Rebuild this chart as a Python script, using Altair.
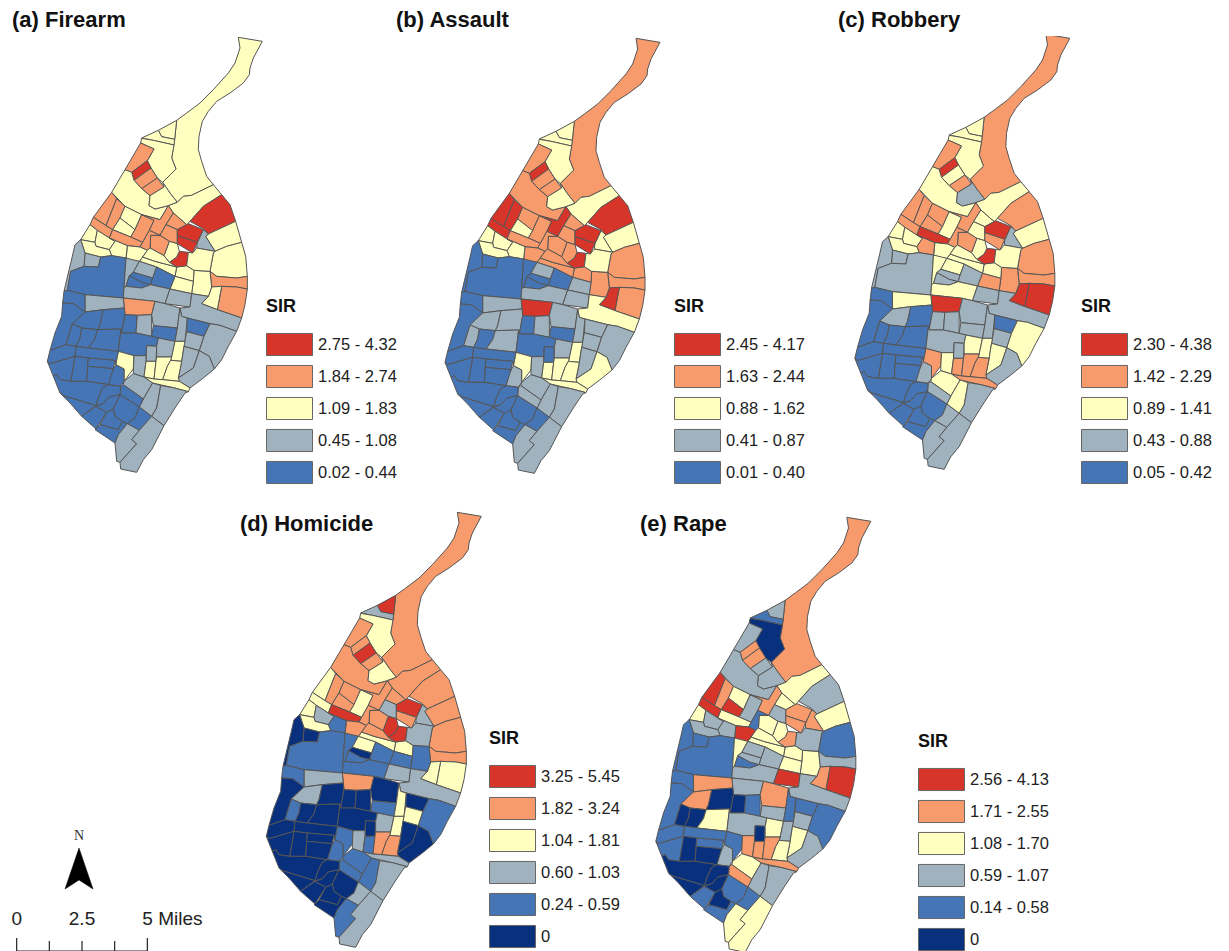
import altair as alt

FONT = "Liberation Sans"
COLORS = {"N": "#08307c", "B": "#4575b5", "G": "#a0b2bd", "Y": "#ffffbf", "O": "#f89b6c", "R": "#d8352a"}

titles = ["(a) Firearm", "(b) Assault", "(c) Robbery", "(d) Homicide", "(e) Rape"]
firearm_labels = ["2.75 - 4.32", "1.84 - 2.74", "1.09 - 1.83", "0.45 - 1.08", "0.02 - 0.44"]
assault_labels = ["2.45 - 4.17", "1.63 - 2.44", "0.88 - 1.62", "0.41 - 0.87", "0.01 - 0.40"]
robbery_labels = ["2.30 - 4.38", "1.42 - 2.29", "0.89 - 1.41", "0.43 - 0.88", "0.05 - 0.42"]
homicide_labels = ["3.25 - 5.45", "1.82 - 3.24", "1.04 - 1.81", "0.60 - 1.03", "0.24 - 0.59", "0"]
rape_labels = ["2.56 - 4.13", "1.71 - 2.55", "1.08 - 1.70", "0.59 - 1.07", "0.14 - 0.58", "0"]

# tract outlines, map units
tract_shapes = {
 "T1": [(595,13),(667,25),(640,75),(630,105),(628,125),(610,150),(570,180),(530,205),(505,235),(487,265),(477,310),(475,350),(485,385),(500,430),(520,455),(455,487),(430,490),(412,508),(390,480),(368,448),(408,408),(395,375),(404,319),(410,262),(440,240),(480,210),(520,170),(565,120),(585,90),(600,45)],
 "T2": [(355,292),(410,262),(404,319),(365,311)],
 "T3": [(305,315),(355,292),(365,311),(404,319),(402,336),(340,322)],
 "T4": [(305,316),(340,322),(402,336),(395,375),(408,408),(368,448),(352,435),(333,405),(322,383),(342,348),(302,330)],
 "T5": [(302,330),(342,348),(322,383),(275,418),(255,410)],
 "T6": [(275,418),(322,383),(333,405),(282,442)],
 "T7": [(282,442),(333,405),(352,435),(305,467)],
 "T8": [(305,467),(352,435),(372,462),(330,488)],
 "T9": [(255,410),(275,418),(282,442),(305,467),(330,488),(327,518),(345,528),(385,518),(360,560),(305,545),(255,520),(215,478)],
 "T10": [(330,488),(372,462),(368,448),(390,480),(412,508),(385,518),(345,528),(327,518)],
 "T12": [(412,508),(430,490),(455,487),(520,455),(545,485),(490,520),(450,565),(440,575),(400,540),(385,518)],
 "T13": [(545,485),(570,515),(587,565),(505,603),(490,587),(450,565),(490,520)],
 "T14": [(505,603),(587,565),(605,628),(560,640),(525,655),(497,610)],
 "T15": [(490,590),(505,603),(497,610),(525,655),(470,645),(472,628)],
 "T16": [(525,655),(560,640),(605,628),(617,670),(622,730),(590,735),(530,730),(510,715),(520,660)],
 "T17": [(530,730),(590,735),(622,730),(622,768),(590,762),(545,760),(515,762),(510,715)],
 "T18": [(545,760),(590,762),(622,768),(615,815),(605,855),(532,830)],
 "T19": [(515,762),(545,760),(532,830),(485,812),(505,790)],
 "T20": [(462,712),(510,715),(515,762),(505,790),(455,782),(460,745)],
 "T21a": [(410,702),(440,698),(462,712),(460,745),(405,730)],
 "T21b": [(405,730),(460,745),(455,782),(390,768)],
 "T22a": [(215,478),(230,497),(198,578),(160,553)],
 "T22b": [(230,497),(255,520),(240,555),(218,590),(198,578)],
 "T23": [(160,553),(198,578),(218,590),(208,615),(172,592),(150,575)],
 "T24": [(255,520),(305,545),(285,590),(240,555)],
 "T25": [(240,555),(285,590),(272,612),(218,590)],
 "T26": [(305,545),(342,562),(328,592),(308,628),(272,612),(285,590)],
 "T27": [(218,590),(272,612),(308,628),(300,642),(262,638),(208,615)],
 "T28": [(305,545),(360,560),(385,518),(400,540),(378,575),(360,607),(328,592),(342,562)],
 "T29": [(400,540),(440,575),(412,590),(378,575)],
 "T30": [(378,575),(412,590),(412,632),(388,625),(360,607)],
 "T31": [(412,590),(445,572),(490,590),(472,628),(412,608)],
 "T32": [(412,608),(472,628),(458,660),(412,632)],
 "T33": [(418,655),(445,658),(440,698),(410,702),(388,688),(410,672)],
 "T34": [(388,625),(412,632),(418,655),(410,672),(388,688),(372,668)],
 "T35": [(332,607),(360,607),(388,625),(372,668),(330,645)],
 "T36": [(328,592),(360,607),(332,607),(330,645),(322,652),(300,642),(308,628)],
 "T40": [(308,672),(345,685),(410,702),(405,730),(350,702),(298,685)],
 "T41": [(262,638),(300,642),(322,652),(308,672),(298,685),(258,682)],
 "T42": [(322,652),(330,645),(372,668),(388,688),(410,702),(345,685),(308,672)],
 "T43": [(445,658),(458,660),(470,645),(525,655),(520,660),(510,715),(462,712),(440,698)],
 "T44": [(150,575),(172,592),(165,628),(122,620)],
 "T45a": [(172,592),(208,615),(225,625),(208,650),(168,640),(165,628)],
 "T45b": [(208,615),(262,638),(258,675),(215,668),(208,650),(225,625)],
 "T46": [(122,620),(165,628),(168,640),(208,650),(215,668),(182,672),(135,660)],
 "T47": [(135,660),(182,672),(175,702),(132,700)],
 "T48": [(105,635),(122,620),(135,660),(132,700),(92,715),(82,772),(72,775),(85,720),(97,670)],
 "T49": [(92,715),(132,700),(175,702),(182,672),(215,668),(258,675),(252,765),(250,795),(135,785),(82,772)],
 "T50": [(258,675),(298,685),(280,718),(268,728),(258,760),(252,765)],
 "T51": [(298,685),(350,702),(338,735),(280,718)],
 "T52": [(280,718),(338,735),(332,755),(305,748),(268,728)],
 "T53": [(268,728),(305,748),(332,755),(305,765),(258,760)],
 "T54": [(350,702),(405,730),(390,768),(332,755),(338,735)],
 "T55": [(258,760),(305,765),(332,755),(390,768),(375,812),(345,805),(250,795),(252,765)],
 "T56": [(390,768),(455,782),(450,822),(375,812)],
 "T57": [(455,782),(505,790),(485,812),(532,830),(605,855),(590,895),(540,877),(510,872),(442,855),(425,850),(420,825),(450,822)],
 "T58": [(250,795),(345,805),(335,845),(292,847),(255,845),(253,825)],
 "T59": [(135,785),(250,795),(253,825),(190,830),(135,837)],
 "T60": [(72,775),(82,772),(135,785),(135,837),(100,812),(68,810)],
 "T61": [(68,810),(100,812),(135,837),(97,873),(78,935),(30,952),(45,900),(65,850)],
 "T62": [(135,837),(190,830),(180,875),(173,890),(125,885),(97,873)],
 "T63": [(190,830),(253,825),(255,845),(245,900),(243,888),(173,890),(180,875)],
 "T64": [(97,873),(125,885),(120,915),(108,940),(78,935)],
 "T65": [(125,885),(173,890),(165,917),(145,945),(108,940),(120,915)],
 "T66": [(173,890),(243,888),(235,955),(145,945),(165,917)],
 "T67": [(255,845),(292,847),(288,900),(245,900)],
 "T68": [(292,847),(335,845),(335,910),(288,900)],
 "T69": [(345,805),(375,812),(420,825),(412,885),(340,878),(335,845)],
 "T70": [(340,878),(412,885),(405,925),(355,915),(335,910)],
 "T71": [(420,825),(425,850),(442,855),(435,925),(405,925),(412,885)],
 "T72": [(442,855),(510,872),(492,910),(440,896)],
 "T73": [(440,896),(492,910),(478,953),(432,940)],
 "T74": [(510,872),(540,877),(590,895),(565,940),(545,980),(523,1008),(508,970),(478,953),(492,910)],
 "T75": [(245,900),(288,900),(335,910),(355,915),(350,940),(320,938),(318,968),(282,968),(235,955),(243,888)],
 "T76": [(320,938),(350,940),(348,985),(318,985)],
 "T77": [(355,915),(405,925),(395,972),(350,972),(350,940)],
 "T78": [(405,925),(435,925),(432,940),(425,985),(392,982),(395,972)],
 "T79": [(432,940),(478,953),(460,1005),(415,1035),(425,985)],
 "T80": [(478,953),(508,970),(523,1008),(490,1035),(450,1065),(418,1045),(415,1035),(460,1005)],
 "T81": [(235,955),(282,968),(280,1008),(252,1045),(252,1008),(227,995)],
 "T82": [(282,968),(318,968),(318,985),(312,1032),(280,1022),(280,1008)],
 "T83": [(318,985),(348,985),(342,1038),(312,1032)],
 "T84": [(350,972),(395,972),(392,982),(382,1000),(368,1040),(342,1038),(348,985)],
 "T85": [(392,982),(425,985),(415,1035),(418,1045),(368,1040),(382,1000)],
 "T86": [(312,1032),(342,1038),(368,1040),(418,1045),(450,1065),(445,1076),(400,1064),(338,1050)],
 "T87": [(280,1022),(312,1032),(338,1050),(310,1098),(250,1055),(252,1045)],
 "T88": [(338,1050),(362,1058),(350,1125),(335,1150),(298,1122),(310,1098)],
 "T89": [(362,1058),(400,1064),(445,1076),(435,1080),(405,1125),(372,1178),(335,1150),(350,1125)],
 "T90": [(250,1055),(310,1098),(298,1122),(240,1085),(242,1060)],
 "T91": [(227,995),(252,1008),(252,1045),(242,1060),(205,1055),(212,1025)],
 "T92": [(30,952),(78,935),(108,940),(105,970),(30,992),(22,985)],
 "T93": [(108,940),(145,945),(235,955),(227,995),(225,982),(145,975),(105,970)],
 "T94": [(105,970),(145,975),(140,1045),(92,1045)],
 "T95": [(145,975),(225,982),(220,1007),(143,1000)],
 "T96": [(143,1000),(220,1007),(205,1055),(140,1045)],
 "T97": [(22,985),(30,992),(105,970),(92,1045),(60,1040),(50,1025),(40,1030)],
 "T98": [(40,1030),(50,1025),(60,1040),(92,1045),(140,1045),(205,1055),(188,1065),(175,1095),(168,1118),(70,1088),(60,1080)],
 "T99": [(60,1080),(70,1088),(168,1118),(125,1150),(90,1110)],
 "T100": [(205,1055),(242,1060),(240,1085),(208,1092),(190,1112),(168,1118),(175,1095),(188,1065)],
 "T101": [(125,1150),(168,1120),(200,1138),(168,1188)],
 "T102": [(168,1120),(190,1112),(208,1092),(240,1085),(220,1128),(200,1138)],
 "T103": [(240,1085),(298,1122),(285,1155),(262,1172),(247,1165),(225,1150),(220,1128)],
 "T104": [(200,1138),(220,1128),(225,1150),(247,1165),(235,1190),(180,1175)],
 "T105": [(168,1188),(180,1175),(235,1190),(247,1165),(262,1172),(235,1205),(225,1230),(165,1190)],
 "T106": [(298,1122),(335,1150),(298,1192),(262,1172),(285,1155)],
 "T107": [(225,1230),(235,1205),(262,1172),(298,1192),(275,1220),(290,1232),(240,1288),(230,1285)],
 "T108": [(335,1150),(372,1178),(335,1250),(310,1280),(290,1318),(242,1308),(240,1288),(290,1232),(275,1220),(298,1192)],
}

# class code per tract, in panel order firearm / assault / robbery / homicide / rape
# R O Y G B N = top class down to the "0" class
tract_classes = {
 "T1":"YOOOO","T2":"YYYRG","T3":"YYYGB","T4":"YYYYN","T5":"OOOOG","T6":"RRROO","T7":"OOYRO","T8":"OOOOG","T9":"YOYOG","T10":"YYGYG",
 "T12":"YYYOY","T13":"RROOG","T14":"YYYOY","T15":"GYGGO","T16":"YOOOB","T17":"OOOOG","T18":"OORYR","T19":"YRRYO","T20":"YOOBY",
 "T21a":"YOYYY","T21b":"YGOBY","T22a":"OROYR","T22b":"OROOO","T23":"OROYR","T24":"YOOOY","T25":"YYOOR","T26":"OOYYG","T27":"OORRY",
 "T28":"OROOO","T29":"OOYOY","T30":"OOYGG","T31":"RRRRO","T32":"RROOO","T33":"RRRRO","T34":"YOYRY","T35":"OOOOY","T36":"OOOOB",
 "T40":"YOYYY","T41":"YOYOR","T42":"YOYOY","T43":"YYYGG","T44":"YYYYY","T45a":"YYYGG","T45b":"YYOBG","T46":"YYYYG","T47":"GBGNB",
 "T48":"GBGNB","T49":"BBGBB","T50":"GBYBY","T51":"GGYYG","T52":"BBGNG","T53":"BBGBB","T54":"BBGBG","T55":"GGYBG","T56":"GGGGR",
 "T57":"GYGGG","T58":"ORROG","T59":"GGYGO","T60":"BBBBB","T61":"BBBNB","T62":"BGGGO","T63":"BGBNN","T64":"BGBBN",
 "T65":"BBBNN","T66":"BGBNY","T67":"BBGNN","T68":"GGGNB","T69":"GGGNO","T70":"BBGBG","T71":"GGGYB","T72":"BGBNB","T73":"GGGYG",
 "T74":"GGYBB","T75":"BBGNG","T76":"GBGNN","T77":"GGYGY","T78":"YYYYG","T79":"GGYNY","T80":"GYGNG","T81":"YYOBB","T82":"GGYGO",
 "T83":"YYOBO","T84":"YYOOO","T85":"YYOOY","T86":"YYOGO","T87":"GGYBY","T88":"GGYBG","T89":"GGGGG","T90":"BGGBO","T91":"BGGBG",
 "T92":"BBBNB","T93":"BBBNB","T94":"BBBNN","T95":"BBBNB","T96":"BBBNN","T97":"BBBNB","T98":"BBBNN","T99":"BBBNN","T100":"BBBNN",
 "T101":"BBBNB","T102":"BBBNN","T103":"BBBNB","T104":"BBBNN","T105":"BBBNB","T106":"BBGGB","T107":"GGGBY","T108":"GGGGY",
}

north_arrow = [(-540, 1020), (-582, 1143), (-540, 1116), (-498, 1143)]
scale_miles = [0, 1.25, 2.5, 3.75, 5]
scale_labels = ["0", "2.5"]
scale_end_label = "5 Miles"


def ring(points, off):
    pts = [[p[0] + off[0], p[1] + off[1]] for p in points]
    return [pts + [pts[0]]]


def tract_features(panel, labels, off):
    order = "ROYGBN"
    out = []
    for name, poly in tract_shapes.items():
        code = tract_classes[name][panel]
        out.append({"type": "Feature", "geometry": {"type": "Polygon", "coordinates": ring(poly, off)},
                    "properties": {"tract": name, "label": labels[order.index(code)]}})
    return out


PANELS = [
    # labels, codes, width, height, map offset (map units), legendX, legendY, title dx, title dy
    (firearm_labels, "ROYGB", 388, 475, (96, -9), 258, 262, 4, 0),
    (assault_labels, "ROYGB", 442, 475, (125, -6), 278, 262, 0, 0),
    (robbery_labels, "ROYGB", 383, 475, (28.5, -18), 243, 262, 0, 0),
    (homicide_labels, "ROYGBN", 632, 443, (753, -9), 481, 219, 232, 29),
    (rape_labels, "ROYGBN", 400, 443, (25.5, 6), 278, 222, 0, 29),
]
PROJ = dict(type="identity", scale=1 / 3, translate=[0, 0])


def panel(i):
    labels, codes, w, h, off, lx, ly, dx, dy = PANELS[i]
    ch = alt.Chart(alt.Data(values=tract_features(i, labels, off))).mark_geoshape(
        stroke="#555555", strokeWidth=1
    ).encode(
        fill=alt.Fill(
            "properties.label:N",
            sort=None,
            scale=alt.Scale(domain=labels, range=[COLORS[c] for c in codes]),
            legend=alt.Legend(
                title="SIR", orient="none", legendX=lx, legendY=ly,
                symbolType="M-1,-0.69H1.875V0.69H-1Z", symbolSize=1024,
                symbolStrokeColor="#666666", symbolStrokeWidth=1, rowPadding=2,
                labelOffset=19, labelFont=FONT, labelFontSize=16.5, labelColor="#222222", labelLimit=200,
                titleFont=FONT, titleFontSize=18, titleFontWeight="bold", titleColor="#111111", titlePadding=12,
            ),
        )
    ).project(**PROJ)
    if i == 3:
        unit = 78.4
        x0 = -727 + off[0]
        ybar = 1329 + off[1]
        lines = [{"type": "Feature", "geometry": {"type": "LineString", "coordinates": [[x0, ybar], [x0 + 5 * unit, ybar]]}, "properties": {}}]
        for m in scale_miles:
            top = ybar - (39 if m in (0, 5) else 30)
            lines.append({"type": "Feature", "geometry": {"type": "LineString", "coordinates": [[x0 + m * unit, ybar], [x0 + m * unit, top]]}, "properties": {}})
        bar = alt.Chart(alt.Data(values=lines)).mark_geoshape(filled=False, stroke="#222222", strokeWidth=1.2).project(**PROJ)
        arrow = alt.Chart(alt.Data(values=[{"type": "Feature", "geometry": {"type": "Polygon", "coordinates": ring(north_arrow, off)}, "properties": {}}])).mark_geoshape(fill="black", stroke="black", strokeWidth=0.5).project(**PROJ)
        n = alt.Chart(alt.Data(values=[{"lon": -540 + off[0], "lat": 984 + off[1], "t": "N"}])).mark_text(font="Liberation Serif", fontSize=14, color="#333333").encode(longitude="lon:Q", latitude="lat:Q", text="t:N").project(**PROJ)
        lab = alt.Chart(alt.Data(values=[{"lon": x0 + m * unit, "lat": 1233 + off[1], "t": t} for m, t in zip([0, 2.5], scale_labels)])).mark_text(font=FONT, fontSize=19, color="#222222").encode(longitude="lon:Q", latitude="lat:Q", text="t:N").project(**PROJ)
        lab2 = alt.Chart(alt.Data(values=[{"lon": x0 + 5 * unit - 15, "lat": 1233 + off[1], "t": scale_end_label}])).mark_text(font=FONT, fontSize=19, color="#222222", align="left").encode(longitude="lon:Q", latitude="lat:Q", text="t:N").project(**PROJ)
        ch = alt.layer(ch, bar, arrow, n, lab, lab2)
    return ch.properties(
        width=w, height=h,
        title=alt.TitleParams(titles[i], anchor="start", frame="group", dx=dx, dy=dy, font=FONT, fontSize=22, fontWeight="bold", color="#111111", offset=4),
    )


row1 = alt.hconcat(panel(0), panel(1), panel(2), spacing=0, bounds="flush").resolve_scale(fill="independent")
row2 = alt.hconcat(panel(3), panel(4), spacing=0, bounds="flush").resolve_scale(fill="independent")
chart = alt.vconcat(row1, row2, spacing=0, padding={"left": 0, "top": 1, "right": 0, "bottom": 0}).resolve_scale(fill="independent").configure_view(stroke=None)
chart.save("out.html", embed_options={"renderer": "svg", "actions": False})
